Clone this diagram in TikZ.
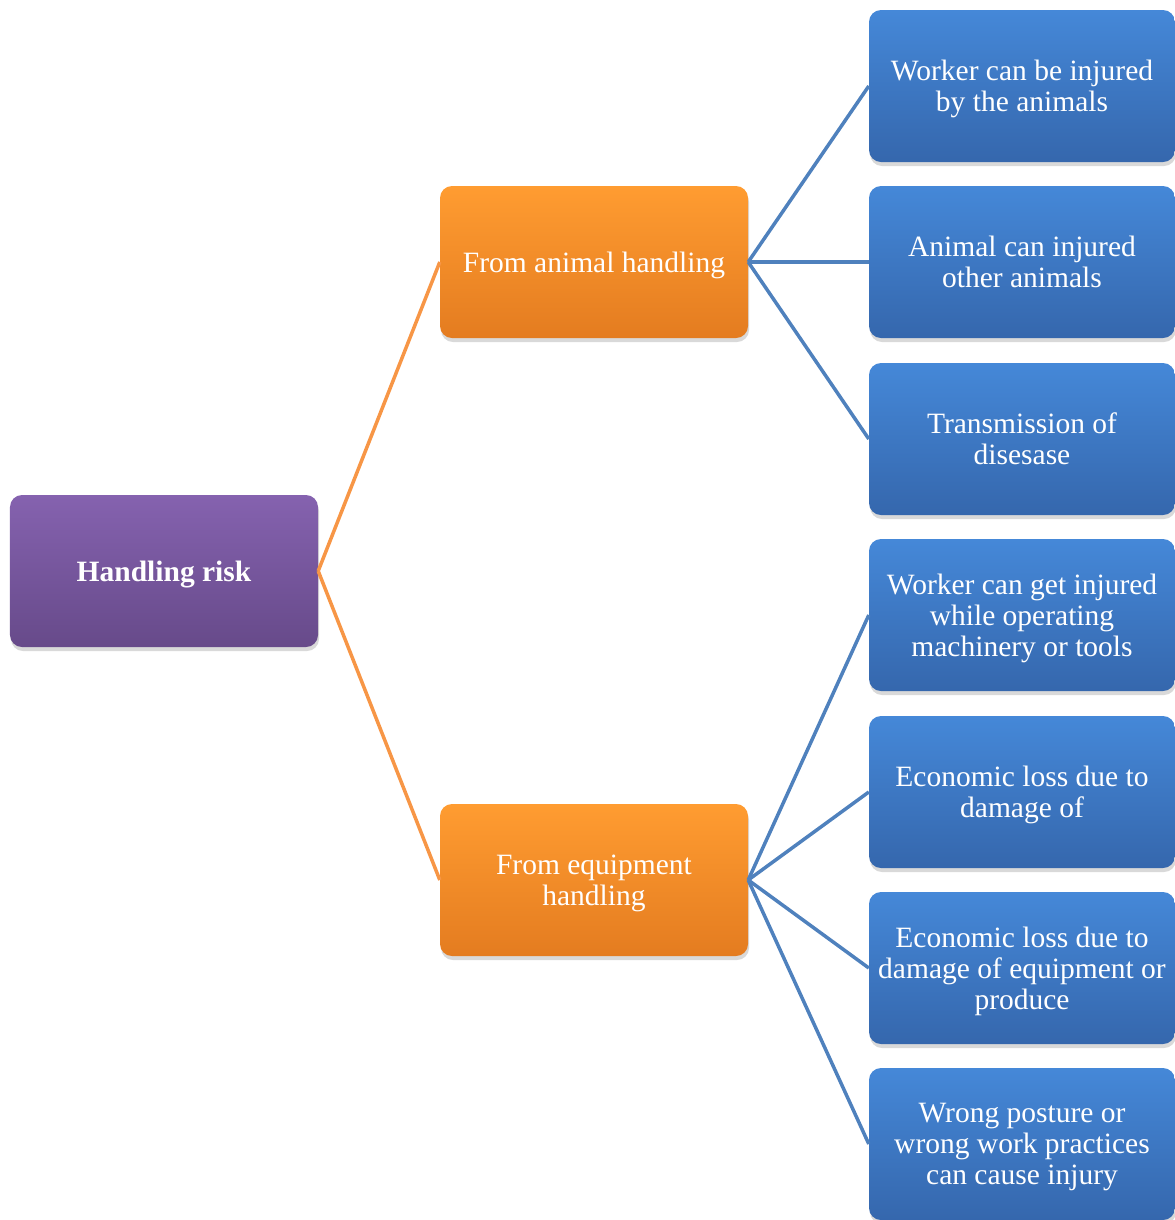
\documentclass[tikz,border=0pt]{standalone}
\usepackage{fontspec}
\setmainfont{Liberation Serif}
\usepackage{tikz}
\usetikzlibrary{shadows}
\definecolor{rootTop}{HTML}{8562AF}
\definecolor{rootBot}{HTML}{674A8A}
\definecolor{midTop}{HTML}{FF9C31}
\definecolor{midBot}{HTML}{E47C20}
\definecolor{leafTop}{HTML}{4588D8}
\definecolor{leafBot}{HTML}{3567AD}
\definecolor{orangeLine}{HTML}{F79646}
\definecolor{blueLine}{HTML}{4F81BD}

\begin{document}
\begin{tikzpicture}[x=1bp,y=-1bp,
  box/.style={rectangle,rounded corners=12bp,minimum width=306bp,minimum height=152bp,
    text=white,align=center,inner sep=2bp,text depth=0bp,font=\fontsize{29.5bp}{31bp}\selectfont,
    drop shadow={shadow xshift=1bp,shadow yshift=-4bp,opacity=0.3}},
  rootbox/.style={box,minimum width=308bp,top color=rootTop,bottom color=rootBot},
  midbox/.style={box,minimum width=308bp,top color=midTop,bottom color=midBot},
  leafbox/.style={box,top color=leafTop,bottom color=leafBot},
  orangeedge/.style={draw=orangeLine,line width=3.5bp},
  blueedge/.style={draw=blueLine,line width=3.5bp}]
\useasboundingbox (0,0) rectangle (1175,1220);
\node[rootbox] (risk) at (164,571) {\textbf{Handling risk}};
\node[midbox] (animal) at (594,262) {From animal handling};
\node[midbox] (equip) at (594,880) {From equipment\\handling};
\node[leafbox] (leafA) at (1022,86) {Worker can be injured\\by the animals};
\node[leafbox] (leafB) at (1022,262) {Animal can injured\\other animals};
\node[leafbox] (leafC) at (1022,439) {Transmission of\\disesase};
\node[leafbox] (leafD) at (1022,615) {Worker can get injured\\while operating\\machinery or tools};
\node[leafbox] (leafE) at (1022,792) {Economic loss due to\\damage of};
\node[leafbox] (leafF) at (1022,968) {Economic loss due to\\damage of equipment or\\produce};
\node[leafbox] (leafG) at (1022,1144) {Wrong posture or\\wrong work practices\\can cause injury};
\draw[orangeedge] (risk.east) -- (animal.west);
\draw[orangeedge] (risk.east) -- (equip.west);
\draw[blueedge] (animal.east) -- (leafA.west);
\draw[blueedge] (animal.east) -- (leafB.west);
\draw[blueedge] (animal.east) -- (leafC.west);
\draw[blueedge] (equip.east) -- (leafD.west);
\draw[blueedge] (equip.east) -- (leafE.west);
\draw[blueedge] (equip.east) -- (leafF.west);
\draw[blueedge] (equip.east) -- (leafG.west);
\end{tikzpicture}
\end{document}
